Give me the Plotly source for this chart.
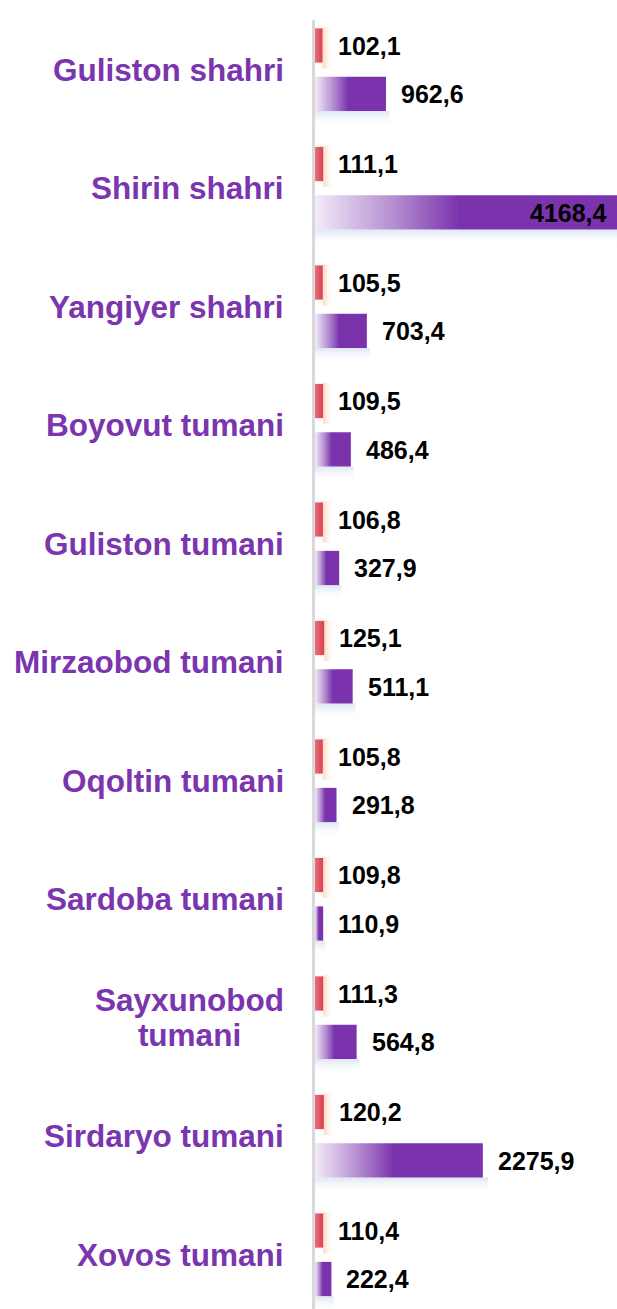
import plotly.graph_objects as go

# District names (two-line label for Sayxunobod)
districts = [
    "Guliston shahri", "Shirin shahri", "Yangiyer shahri", "Boyovut tumani",
    "Guliston tumani", "Mirzaobod tumani", "Oqoltin tumani", "Sardoba tumani",
    "Sayxunobod<br>tumani", "Sirdaryo tumani", "Xovos tumani",
]
# Growth rate, per cent (upper red bar)
growth_pct = [102.1, 111.1, 105.5, 109.5, 106.8, 125.1, 105.8, 109.8, 111.3, 120.2, 110.4]
# Volume (lower purple bar)
volume = [962.6, 4168.4, 703.4, 486.4, 327.9, 511.1, 291.8, 110.9, 564.8, 2275.9, 222.4]

W, H = 617, 1309
LEFT = 315
XMAX = 4095.0           # visible end of the value axis
ROW_PX = 118.5          # pixel height of one district row
FIRST_ROW_PX = 69.75    # pixel centre of the first row
OFF = 0.2046            # bar centre offset from row centre (row units)
HALF = 0.1445           # half bar thickness (row units)

PURPLE = "#7a33ad"
LABEL_FONT = dict(family="Liberation Sans, Arial, sans-serif", size=25, color="#000000", weight="bold")
# base size sets the line spacing of wrapped names; glyphs are enlarged with a span
NAME_FONT = dict(family="Liberation Sans, Arial, sans-serif", size=27, color="#7b35ae", weight="bold")
NAME_GLYPH_PX = 31.5

fmt = lambda v: f"{v:.1f}".replace(".", ",")
px_per_unit = (W - LEFT) / XMAX

fig = go.Figure()


def rect(x0, x1, yc, half, **kw):
    fig.add_trace(go.Scatter(
        x=[x0, x1, x1, x0, x0],
        y=[yc - half, yc - half, yc + half, yc + half, yc - half],
        mode="lines", line=dict(width=0), fill="toself",
        hoverinfo="skip", showlegend=False, **kw))


annotations = []
for i, (g, v) in enumerate(zip(growth_pct, volume)):
    yr = i - OFF
    yp = i + OFF
    # soft glow right of the red bar
    rect(g, g + 11 / px_per_unit, yr + 0.02, HALF + 0.03,
         fillgradient=dict(type="horizontal",
                           colorscale=[[0, "rgba(250,185,140,0.55)"], [1, "rgba(255,255,255,0)"]]))
    # red bar
    rect(0, g, yr, HALF,
         fillgradient=dict(type="horizontal",
                           colorscale=[[0, "#ea6f7c"], [1, "#d9404f"]]))
    # pale shadow under the purple bar
    sh0 = yp + HALF
    sh1 = yp + HALF + 0.13
    rect(0, v * 1.02 + 2 / px_per_unit, (sh0 + sh1) / 2, (sh1 - sh0) / 2,
         fillgradient=dict(type="vertical", start=sh0, stop=sh1,
                           colorscale=[[0, "rgba(222,230,245,1)"], [1, "rgba(255,255,255,0)"]]))
    # purple bar
    rect(0, v, yp, HALF,
         fillgradient=dict(type="horizontal",
                           colorscale=[[0, "#f3ebf8"], [0.25, "#b690d1"], [0.47, PURPLE], [1, PURPLE]]))

    annotations.append(dict(x=g, y=yr, xref="x", yref="y", text=fmt(g), showarrow=False,
                            xanchor="left", yanchor="middle", xshift=13, font=LABEL_FONT))
    if v < XMAX:
        annotations.append(dict(x=v, y=yp, xref="x", yref="y", text=fmt(v), showarrow=False,
                                xanchor="left", yanchor="middle", xshift=13, font=LABEL_FONT))
    else:
        annotations.append(dict(x=XMAX, y=yp, xref="x", yref="y", text=fmt(v), showarrow=False,
                                xanchor="right", yanchor="middle", xshift=-8, font=LABEL_FONT))

# District names, right edge just left of the axis, wrapped lines centred
for i, name in enumerate(districts):
    text = "<br>".join(f'<span style="font-size:{NAME_GLYPH_PX}px">{s}</span>'
                       for s in name.split("<br>"))
    annotations.append(dict(
        x=0, y=i, xref="paper", yref="y", text=text, showarrow=False,
        xanchor="right", yanchor="middle", align="center",
        xshift=-29, font=NAME_FONT))

y_top = -FIRST_ROW_PX / ROW_PX
y_bottom = y_top + H / ROW_PX

fig.update_layout(
    width=W, height=H,
    margin=dict(l=LEFT, r=0, t=0, b=0),
    paper_bgcolor="white", plot_bgcolor="white",
    showlegend=False,
    annotations=annotations,
    shapes=[dict(type="line", xref="paper", yref="paper", xsizemode="pixel", xanchor=0,
                 x0=-1.5, x1=-1.5, y0=0, y1=1 - 20 / H,
                 line=dict(color="#d9d9d9", width=3), layer="above")],
    xaxis=dict(range=[0, XMAX], visible=False, fixedrange=True),
    yaxis=dict(range=[y_bottom, y_top], visible=False, fixedrange=True),
)

fig.write_html("out.html")
